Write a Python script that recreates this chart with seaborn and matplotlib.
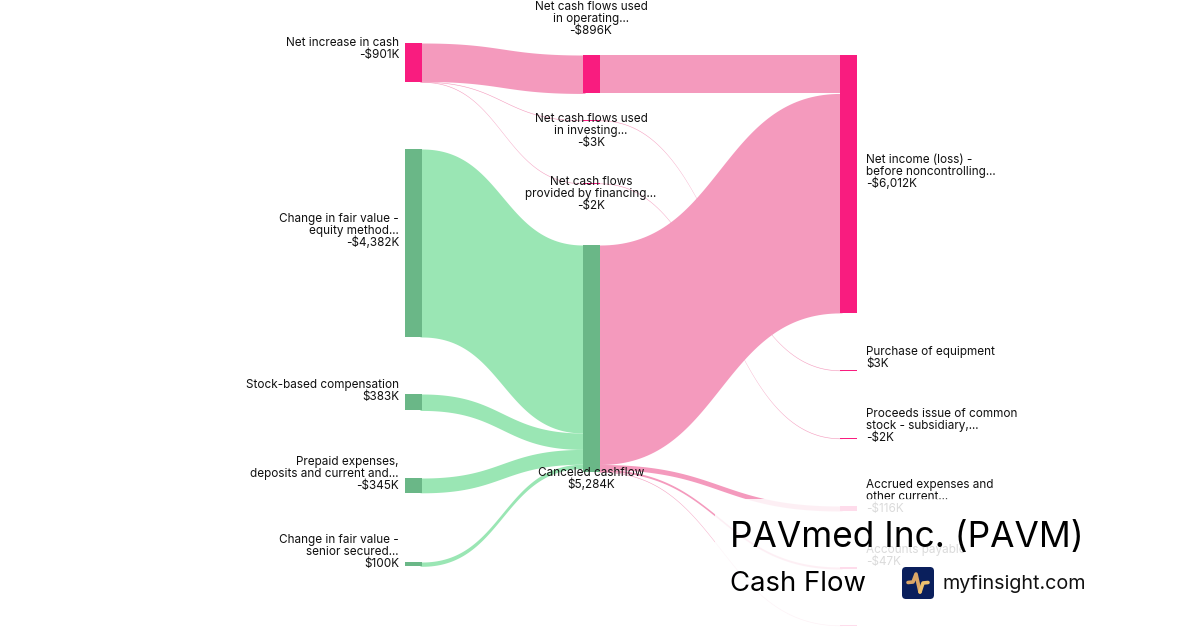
import numpy as np
import matplotlib.pyplot as plt
from matplotlib.patches import FancyBboxPatch
import seaborn as sns

# values in $K
node_names = ["net_increase", "fair_value", "stock_comp", "prepaid", "senior",
              "operating", "investing", "financing", "canceled",
              "net_income", "purchase", "proceeds", "accrued", "payable", "other"]
node_values = [901, 4382, 383, 345, 100, 896, 3, 2, 5284, 6012, 3, 2, 116, 47, 5]
node_labels = [
    ["Net increase in cash", "-$901K"],
    ["Change in fair value -", "equity method...", "-$4,382K"],
    ["Stock-based compensation", "$383K"],
    ["Prepaid expenses,", "deposits and current and...", "-$345K"],
    ["Change in fair value -", "senior secured...", "$100K"],
    ["Net cash flows used", "in operating...", "-$896K"],
    ["Net cash flows used", "in investing...", "-$3K"],
    ["Net cash flows", "provided by financing...", "-$2K"],
    ["Canceled cashflow", "$5,284K"],
    ["Net income (loss) -", "before noncontrolling...", "-$6,012K"],
    ["Purchase of equipment", "$3K"],
    ["Proceeds issue of common", "stock - subsidiary,...", "-$2K"],
    ["Accrued expenses and", "other current...", "-$116K"],
    ["Accounts payable", "-$47K"],
    [],
]
node_groups = ["pink", "green", "green", "green", "green",
               "pink", "pink", "pink", "green",
               "pink", "pink", "pink", "pink", "pink", "pink"]

link_sources = ["net_increase", "net_increase", "net_increase", "operating", "investing", "financing",
                "fair_value", "stock_comp", "prepaid", "senior",
                "canceled", "canceled", "canceled", "canceled"]
link_targets = ["operating", "investing", "financing", "net_income", "purchase", "proceeds",
                "canceled", "canceled", "canceled", "canceled",
                "net_income", "accrued", "payable", "other"]
link_values = [896, 3, 2, 896, 3, 2, 4382, 383, 345, 100, 5116, 116, 47, 5]
link_groups = ["pink"] * 6 + ["green"] * 4 + ["pink"] * 4

# layout, in pixels
node_columns = [0, 0, 0, 0, 0, 1, 1, 1, 1, 2, 2, 2, 2, 2, 2]
node_tops = [43, 149, 394, 478, 562, 55, 120, 183, 245, 55, 370, 438, 506, 567, 625]
label_last_y = [55, 243, 397, 486, 564, 31, 143, 206, 485, 184, 364, 438, 509, 562, 0]
column_x = [405, 583, 840]
node_w = 17
px_per_k = 0.0429

node_pal = dict(pink="#f91c7f", green="#6ab787")
link_pal = dict(pink="#f49abd", green="#9ae6b4")

sns.set_theme(style="white")
plt.rcParams['font.family'] = ['Inter', 'DejaVu Sans']

fig = plt.figure(figsize=(12, 6.3), dpi=100, facecolor="white")
ax = fig.add_axes([0, 0, 1, 1])
ax.set_xlim(0, 1200)
ax.set_ylim(630, 0)
ax.axis("off")

idx = {n: i for i, n in enumerate(node_names)}
out_used = [0.0] * len(node_names)
in_used = [0.0] * len(node_names)
t = np.linspace(0, 1, 80)


def bez(a, b, c, d):
    return (1 - t) ** 3 * a + 3 * (1 - t) ** 2 * t * b + 3 * (1 - t) * t ** 2 * c + t ** 3 * d


# links
for src, tgt, val, grp in zip(link_sources, link_targets, link_values, link_groups):
    s, d = idx[src], idx[tgt]
    h = val * px_per_k
    y0 = node_tops[s] + out_used[s]
    y1 = node_tops[d] + in_used[d]
    out_used[s] += h
    in_used[d] += h
    x0 = column_x[node_columns[s]] + node_w
    x1 = column_x[node_columns[d]]
    xs = bez(x0, (x0 + x1) / 2, (x0 + x1) / 2, x1)
    top = bez(y0, y0, y1, y1)
    # run a little under the nodes so no white seam shows
    xs = np.r_[x0 - 2, xs, x1 + 2]
    top = np.r_[y0, top, y1]
    ax.fill_between(xs, top, top + max(h, 0.6), color=link_pal[grp], lw=0, zorder=2)

# nodes
for i, name in enumerate(node_names):
    h = max(node_values[i] * px_per_k, 1)
    ax.bar(column_x[node_columns[i]], h, width=node_w, bottom=node_tops[i], align="edge",
           color=node_pal[node_groups[i]], lw=0, zorder=3)

# node labels
for i, lines in enumerate(node_labels):
    col = node_columns[i]
    x = [399, 591, 866][col]
    ha = ["right", "center", "left"][col]
    for k, line in enumerate(reversed(lines)):
        ax.text(x, label_last_y[i] - 12 * k, line, ha=ha, va="center", fontsize=8.45,
                color="#111111", zorder=4)

# white card behind the title
card = FancyBboxPatch((725, 509), 600, 200, boxstyle="round,pad=10,rounding_size=10",
                      fc="white", ec="none", alpha=0.85, zorder=5)
ax.add_patch(card)

ax.text(730, 538, "PAVmed Inc. (PAVM)", fontsize=25.4, color="black", va="center", ha="left", zorder=6)
ax.text(730, 584, "Cash Flow", fontsize=19.8, color="black", va="center", ha="left", zorder=6)
ax.text(942, 584, "myfinsight.com", fontsize=14.2, color="#111111", va="center", ha="left", zorder=6)

logo = FancyBboxPatch((905, 570), 26, 26, boxstyle="round,pad=3,rounding_size=4",
                      fc="#0a1f5c", ec="none", zorder=6)
ax.add_patch(logo)
ax.plot([908, 913, 916, 920], [582.5, 582, 574, 592], color="#dca767", lw=2.6,
        solid_capstyle="round", solid_joinstyle="round", zorder=7)
ax.plot([920, 923, 928], [592, 583, 582.5], color="#eec26f", lw=2.6,
        solid_capstyle="round", solid_joinstyle="round", zorder=7)

fig.savefig("out.png", dpi=100, facecolor="white")
